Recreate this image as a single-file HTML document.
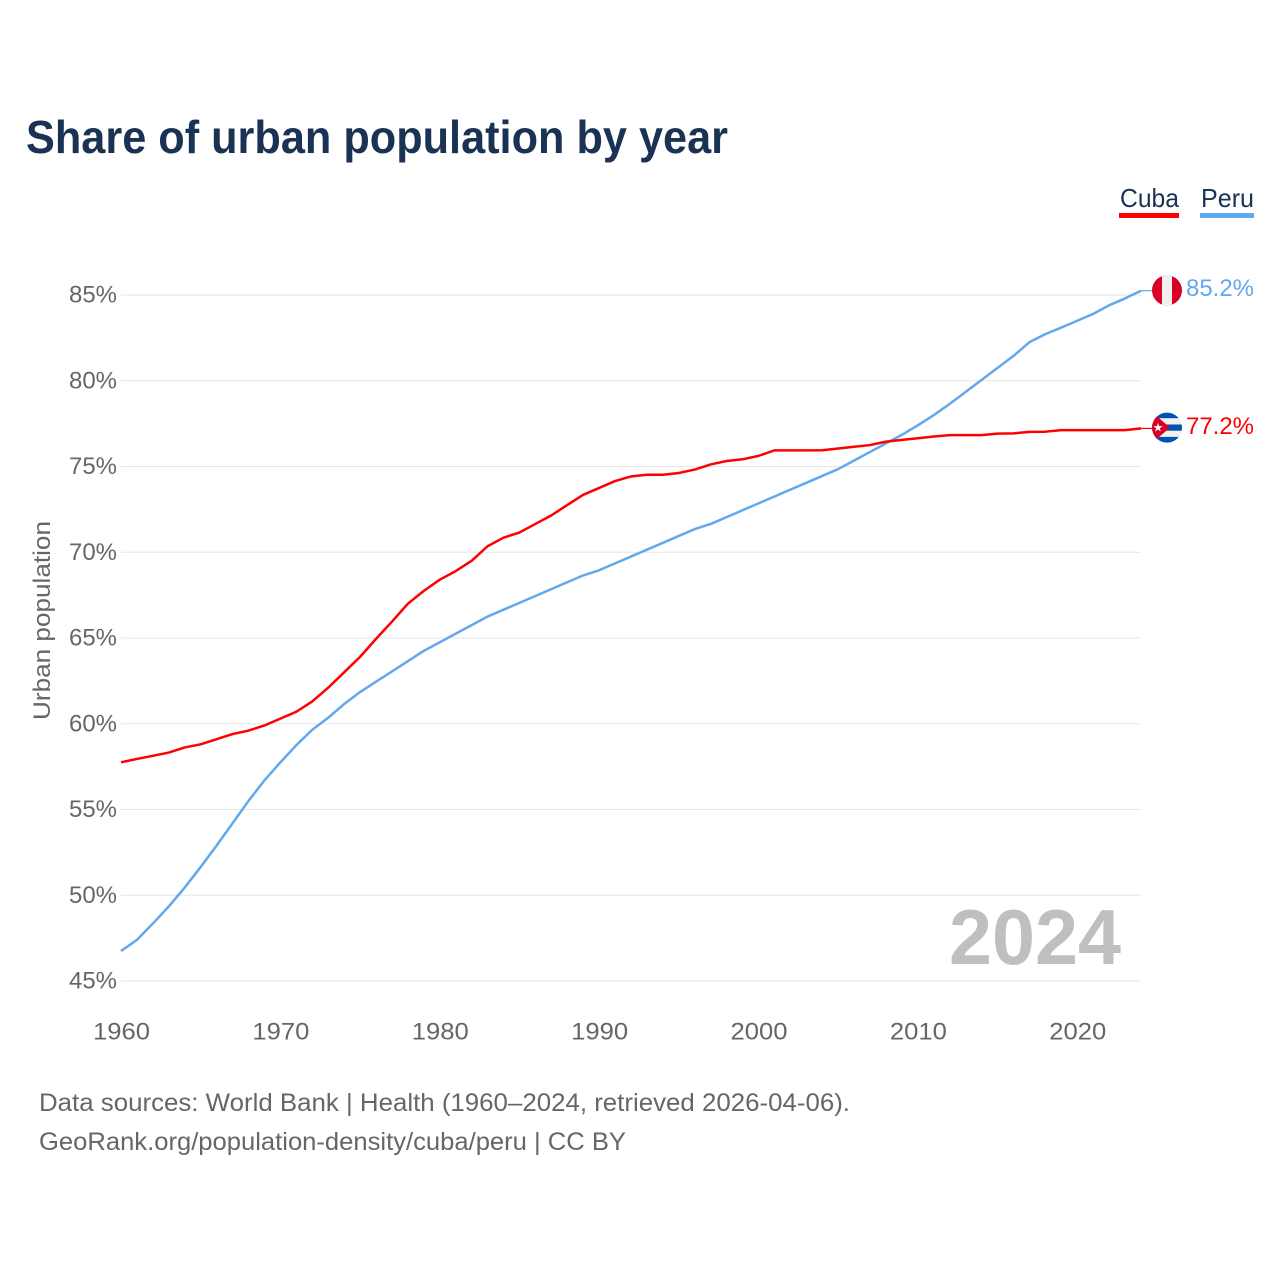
<!DOCTYPE html>
<html lang="en">
<head>
<meta charset="utf-8">
<title>Share of urban population by year</title>
<style>
html,body{margin:0;padding:0;background:#fff;width:1280px;height:1280px;overflow:hidden}
svg{display:block}
text{font-family:"Liberation Sans",sans-serif}
</style>
</head>
<body>
<svg id="chart" xmlns="http://www.w3.org/2000/svg" width="1280" height="1280" viewBox="0 0 1280 1280">
  <defs>
    <clipPath id="clip-peru"><circle cx="1167" cy="290.4" r="15"/></clipPath>
    <clipPath id="clip-cuba"><circle cx="1167" cy="427.6" r="15"/></clipPath>
  </defs>
  <rect width="1280" height="1280" fill="#fff"/>
  <text x="26" y="153" font-size="46" font-weight="700" fill="#1a3354" textLength="702" lengthAdjust="spacingAndGlyphs">Share of urban population by year</text>

  <g>
    <text x="1120" y="207" font-size="26" fill="#1a3354" textLength="59" lengthAdjust="spacingAndGlyphs">Cuba</text>
    <rect x="1119" y="213" width="60" height="5" fill="#ff0000"/>
  </g>
  <g>
    <text x="1201" y="207" font-size="26" fill="#1a3354" textLength="53" lengthAdjust="spacingAndGlyphs">Peru</text>
    <rect x="1200" y="213" width="54" height="5" fill="#62a8ee"/>
  </g>

  <g id="grid"></g>
  <g id="y-axis"></g>
  <g id="x-axis"></g>
  <text transform="translate(50 620.5) rotate(-90)" text-anchor="middle" font-size="24" fill="#666" textLength="199" lengthAdjust="spacingAndGlyphs">Urban population</text>

  <text x="949" y="964" font-size="78" font-weight="700" fill="#bfbfbf" textLength="172" lengthAdjust="spacingAndGlyphs">2024</text>

  <g id="series"></g>

  <g clip-path="url(#clip-peru)">
    <rect x="1152" y="275" width="30" height="31" fill="#d80027"/>
    <rect x="1162" y="275" width="10" height="31" fill="#f0f0f0"/>
  </g>
  <text x="1186" y="296" font-size="24" fill="#62a8ee" textLength="68" lengthAdjust="spacingAndGlyphs">85.2%</text>

  <g clip-path="url(#clip-cuba)">
    <rect x="1152" y="412" width="30" height="31" fill="#f0f0f0"/>
    <rect x="1152" y="412" width="30" height="6.2" fill="#0052b4"/>
    <rect x="1152" y="424.5" width="30" height="6.2" fill="#0052b4"/>
    <rect x="1152" y="436.9" width="30" height="6.2" fill="#0052b4"/>
    <polygon points="1152,412 1170,427.6 1152,443" fill="#d80027"/>
    <text x="1158" y="431.5" font-size="12" text-anchor="middle" fill="#fff">★</text>
  </g>
  <text x="1186" y="434" font-size="24" fill="#ff0000" textLength="68" lengthAdjust="spacingAndGlyphs">77.2%</text>

  <text x="39" y="1111" font-size="25" fill="#666" textLength="811" lengthAdjust="spacingAndGlyphs">Data sources: World Bank | Health (1960–2024, retrieved 2026-04-06).</text>
  <text x="39" y="1150" font-size="25" fill="#666" textLength="587" lengthAdjust="spacingAndGlyphs">GeoRank.org/population-density/cuba/peru | CC BY</text>
</svg>
<script>
const startYear = 1960;
const endYear = 2024;
const yTicks = [45, 50, 55, 60, 65, 70, 75, 80, 85];
const xTicks = [1960, 1970, 1980, 1990, 2000, 2010, 2020];
const cubaValues = [57.75,57.95,58.13,58.32,58.62,58.8,59.1,59.4,59.6,59.9,60.3,60.7,61.3,62.1,63.0,63.9,64.95,65.95,67.0,67.75,68.4,68.9,69.5,70.35,70.85,71.15,71.65,72.15,72.75,73.35,73.75,74.15,74.42,74.52,74.52,74.62,74.82,75.12,75.32,75.42,75.62,75.94,75.94,75.94,75.95,76.05,76.15,76.25,76.45,76.55,76.65,76.75,76.83,76.83,76.83,76.92,76.93,77.02,77.03,77.12,77.12,77.12,77.12,77.12,77.22];
const peruValues = [46.75,47.4,48.35,49.35,50.45,51.65,52.9,54.2,55.5,56.7,57.75,58.75,59.65,60.35,61.15,61.85,62.45,63.05,63.65,64.25,64.75,65.25,65.75,66.25,66.65,67.05,67.45,67.85,68.25,68.65,68.95,69.35,69.75,70.15,70.55,70.95,71.35,71.65,72.05,72.45,72.85,73.25,73.65,74.05,74.45,74.85,75.35,75.85,76.35,76.85,77.4,78.0,78.65,79.35,80.05,80.75,81.45,82.25,82.72,83.1,83.5,83.9,84.4,84.8,85.25];

const NS = 'http://www.w3.org/2000/svg';
function xScale(year) { return 121 + (year - startYear) * (1141 - 121) / (endYear - startYear); }
function yScale(v) { return 981 - (v - 45) * (981 - 295) / (85 - 45); }

const gridGroup = document.getElementById('grid');
const yGroup = document.getElementById('y-axis');
const xGroup = document.getElementById('x-axis');
const seriesGroup = document.getElementById('series');

yTicks.forEach(function (t) {
  const line = document.createElementNS(NS, 'line');
  
  
  line.setAttribute('x1', 121);
  line.setAttribute('x2', 1141);
  line.setAttribute('y1', yScale(t));
  line.setAttribute('y2', yScale(t));
  line.setAttribute('stroke', '#e6e6e6');
  line.setAttribute('stroke-width', '1');
  gridGroup.appendChild(line);

  const label = document.createElementNS(NS, 'text');
  
  
  label.setAttribute('x', 69);
  label.setAttribute('y', yScale(t) + 7.5);
  label.setAttribute('font-size', '24');
  label.setAttribute('fill', '#666');
  label.setAttribute('textLength', '48');
  label.setAttribute('lengthAdjust', 'spacingAndGlyphs');
  label.textContent = t + '%';
  yGroup.appendChild(label);
});

xTicks.forEach(function (t) {
  const label = document.createElementNS(NS, 'text');
  
  
  label.setAttribute('x', xScale(t) - 28);
  label.setAttribute('y', 1039.5);
  label.setAttribute('font-size', '24');
  label.setAttribute('fill', '#666');
  label.setAttribute('textLength', '57');
  label.setAttribute('lengthAdjust', 'spacingAndGlyphs');
  label.textContent = t;
  xGroup.appendChild(label);
});

function linePoints(values) {
  return values.map(function (v, i) {
    return xScale(startYear + i).toFixed(2) + ',' + yScale(v).toFixed(2);
  }).join(' ');
}

const peruLine = document.createElementNS(NS, 'polyline');


peruLine.setAttribute('points', linePoints(peruValues));
peruLine.setAttribute('fill', 'none');
peruLine.setAttribute('stroke', '#62a8ee');
peruLine.setAttribute('stroke-width', '2.5');
peruLine.setAttribute('stroke-linejoin', 'round');
seriesGroup.appendChild(peruLine);

const cubaLine = document.createElementNS(NS, 'polyline');


cubaLine.setAttribute('points', linePoints(cubaValues));
cubaLine.setAttribute('fill', 'none');
cubaLine.setAttribute('stroke', '#ff0000');
cubaLine.setAttribute('stroke-width', '2.5');
cubaLine.setAttribute('stroke-linejoin', 'round');
seriesGroup.appendChild(cubaLine);

const peruConnector = document.createElementNS(NS, 'line');


peruConnector.setAttribute('x1', xScale(endYear));
peruConnector.setAttribute('x2', 1152);
peruConnector.setAttribute('y1', yScale(peruValues[peruValues.length - 1]));
peruConnector.setAttribute('y2', yScale(peruValues[peruValues.length - 1]));
peruConnector.setAttribute('stroke', '#62a8ee');
peruConnector.setAttribute('stroke-width', '1.2');
seriesGroup.appendChild(peruConnector);

const cubaConnector = document.createElementNS(NS, 'line');


cubaConnector.setAttribute('x1', xScale(endYear));
cubaConnector.setAttribute('x2', 1152);
cubaConnector.setAttribute('y1', yScale(cubaValues[cubaValues.length - 1]));
cubaConnector.setAttribute('y2', yScale(cubaValues[cubaValues.length - 1]));
cubaConnector.setAttribute('stroke', '#ff0000');
cubaConnector.setAttribute('stroke-width', '1.2');
seriesGroup.appendChild(cubaConnector);
</script>
</body>
</html>
